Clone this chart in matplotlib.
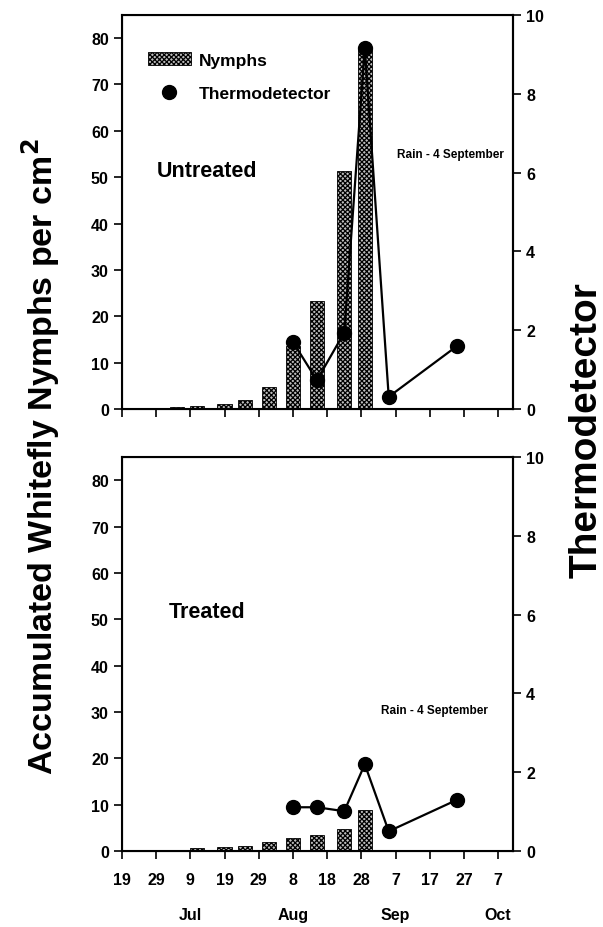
import pandas as pd
import numpy as np
import matplotlib
matplotlib.use('Agg')
import matplotlib.pyplot as plt
from matplotlib.patches import Patch
from matplotlib.lines import Line2D

plt.rcParams['font.family'] = ['Liberation Sans', 'DejaVu Sans']
plt.rcParams['font.weight'] = 'bold'
plt.rcParams['hatch.linewidth'] = 0.9

year = '1997-'
# sampling dates (bars and thermodetector share them)
bar_dates = ['07-05', '07-11', '07-19', '07-25', '08-01', '08-08', '08-15', '08-23', '08-29']
nymphs_untreated = [0.4, 0.7, 1.1, 1.9, 4.8, 13.5, 23.4, 51.3, 78.0]
nymphs_treated = [0.3, 0.6, 0.8, 1.1, 1.9, 2.9, 3.5, 4.7, 8.8]

thermo_dates = ['08-08', '08-15', '08-23', '08-29', '09-05', '09-25']
thermo_untreated = [1.70, 0.73, 1.94, 9.16, 0.31, 1.60]
thermo_treated = [1.11, 1.11, 1.01, 2.20, 0.50, 1.30]

tick_dates = ['06-19', '06-29', '07-09', '07-19', '07-29', '08-08', '08-18',
              '08-28', '09-07', '09-17', '09-27', '10-07']
tick_labels = ['19', '29', '9', '19', '29', '8', '18', '28', '7', '17', '27', '7']
month_dates = ['07-09', '08-08', '09-07', '10-07']
month_labels = ['Jul', 'Aug', 'Sep', 'Oct']

to_dt = lambda l: pd.to_datetime([year + d for d in l])
bx = to_dt(bar_dates)
tx = to_dt(thermo_dates)
ticks = to_dt(tick_dates)
months = to_dt(month_dates)
x0 = pd.Timestamp(year + '06-19')
x1 = pd.Timestamp(year + '10-11') + pd.Timedelta(hours=8)

bar_face = '#bdbdbd'
hatch = 'xxxxxxx'

fig = plt.figure(figsize=(6.03, 9.28), dpi=100)
ax_top = fig.add_axes([0.2023, 0.5582, 0.6484, 0.4246])
ax_bot = fig.add_axes([0.2023, 0.0819, 0.6484, 0.4246])

# axes, nymphs, thermo, label, (label x, y), (rain x, y)
panels = [(ax_top, nymphs_untreated, thermo_untreated, 'Untreated', (0.217, 0.604), (0.839, 0.647)),
          (ax_bot, nymphs_treated, thermo_treated, 'Treated', (0.217, 0.607), (0.80, 0.358))]

for ax, nym, th, name, name_xy, rain_xy in panels:
    ax.bar(bx, nym, width=pd.Timedelta(days=4.2), color=bar_face,
           edgecolor='black', hatch=hatch, linewidth=0.6, zorder=2)
    ax.set_ylim(0, 85)
    ax.set_yticks(np.arange(0, 81, 10))
    ax.set_xlim(x0, x1)
    ax.set_xticks(ticks)
    ax.tick_params(axis='both', direction='out', length=6, width=1.2, labelsize=11.5)
    for s in ax.spines.values():
        s.set_linewidth(1.5)
    ax.text(name_xy[0], name_xy[1], name, transform=ax.transAxes, ha='center', va='center',
            fontsize=15.5, fontweight='bold')
    ax.text(rain_xy[0], rain_xy[1], 'Rain - 4 September', transform=ax.transAxes,
            ha='center', va='center', fontsize=8.5, fontweight='bold')

    ax2 = ax.twinx()
    ax2.plot(tx, th, color='black', linewidth=1.6, marker='o', markersize=10, zorder=3)
    ax2.set_ylim(0, 10)
    ax2.set_yticks(np.arange(0, 11, 2))
    ax2.tick_params(axis='y', direction='out', length=6, width=1.2, labelsize=11.5)
    ax2.spines['right'].set_linewidth(1.5)

ax_top.set_xticklabels([])
ax_bot.set_xticklabels(tick_labels)
ax_bot.tick_params(axis='x', pad=9)
for d, m in zip(months, month_labels):
    ax_bot.text(d, -0.16, m, transform=ax_bot.get_xaxis_transform(),
                ha='center', va='center', fontsize=11.5, fontweight='bold')

handles = [Patch(facecolor=bar_face, edgecolor='black', hatch=hatch, linewidth=0.6),
           Line2D([], [], color='black', marker='o', markersize=10, linestyle='none')]
ax_top.legend(handles, ['Nymphs', 'Thermodetector'], loc='upper left',
              bbox_to_anchor=(0.066, 0.905), frameon=False, fontsize=12.5, borderpad=0,
              borderaxespad=0, handlelength=2.5, handleheight=0.75, labelspacing=1.05,
              handletextpad=0.45)

fig.text(0.068, 0.508, 'Accumulated Whitefly Nymphs per cm$^\\mathbf{2}$', rotation=90,
         ha='center', va='center', fontsize=24.5, fontweight='bold')
fig.text(0.973, 0.537, 'Thermodetector', rotation=90, ha='center', va='center',
         fontsize=28, fontweight='bold')

fig.savefig('out.png', dpi=100)
